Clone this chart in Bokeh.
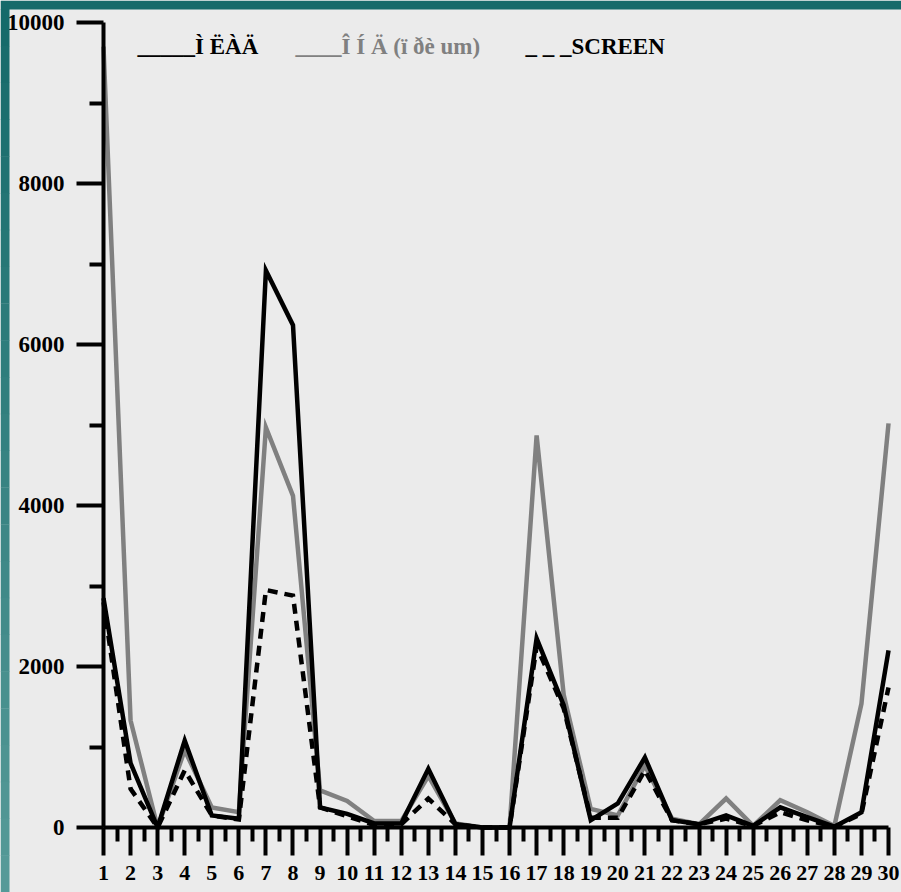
from bokeh.plotting import figure
from bokeh.models import FixedTicker, Label, Range1d, BoxAnnotation
from bokeh.embed import file_html
from bokeh.resources import INLINE

# ---------------- data ----------------
days = list(range(1, 31))
ond_vals = [9700, 1330, 0, 960, 250, 190, 4970, 4120, 460, 330,
            80, 80, 640, 50, 0, 0, 4870, 1650, 230, 150,
            770, 110, 40, 360, 20, 340, 190, 20, 1540, 5020]
mld_vals = [2850, 800, 0, 1080, 150, 110, 6920, 6240, 250, 170,
            50, 50, 730, 40, 0, 0, 2350, 1520, 90, 300,
            870, 90, 40, 150, 20, 250, 130, 10, 190, 2200]
screen_vals = [2800, 480, 0, 710, 150, 100, 2950, 2880, 250, 140,
               30, 40, 360, 40, 0, 0, 2250, 1480, 120, 120,
               710, 90, 40, 110, 20, 190, 90, 10, 170, 1740]
y_ticks = [0, 2000, 4000, 6000, 8000, 10000]
y_minor_ticks = [1000, 3000, 5000, 7000, 9000]
x_minor_ticks = [d + 0.5 for d in days[:-1]]
legend_texts = ["_____Ì ËÀÄ", "____Î Í Ä (ï ðè um)", "_ _ _SCREEN"]

# ---------------- style ----------------
BG = "#ebebeb"
TEAL_TOP = (21, 106, 106)
TEAL_BOTTOM = (86, 154, 152)
GRAY = "#808080"
FONT = "Liberation Serif"

W, H = 901, 892
PAD = 9                      # teal frame (top / left)
X0_PX, DX_PX = 103, 27.07    # page x of day 1, px per day
Y0_PX, DY_PX = 827, 0.0805   # page y of value 0, px per unit


def to_data(px, py):
    return 1 + (px - X0_PX) / DX_PX, (Y0_PX - py) / DY_PX


x_start, y_end = to_data(0, 0)
x_end, y_start = to_data(W, H)

p = figure(width=W, height=H, output_backend="svg", toolbar_location=None,
           x_range=Range1d(x_start, x_end), y_range=Range1d(y_start, y_end),
           min_border_left=0, min_border_right=0,
           min_border_top=0, min_border_bottom=0)
p.background_fill_color = BG
p.border_fill_color = BG
p.outline_line_color = None
p.grid.visible = False

# teal page frame (top strip + left strip with a vertical gradient)
xl, yt = to_data(0, 0)
xr, _ = to_data(PAD, 0)
_, yb = to_data(0, PAD)
p.add_layout(BoxAnnotation(left=xl, right=x_end, top=yt, bottom=yb,
                           fill_color="#%02x%02x%02x" % TEAL_TOP, fill_alpha=1,
                           line_color=None))
N = 24
for i in range(N):
    t = i / (N - 1)
    c = tuple(round(a + (b - a) * t) for a, b in zip(TEAL_TOP, TEAL_BOTTOM))
    _, b_top = to_data(0, PAD + (H - PAD) * i / N)
    _, b_bot = to_data(0, PAD + (H - PAD) * (i + 1) / N)
    p.add_layout(BoxAnnotation(left=xl, right=xr, top=b_top + 5, bottom=b_bot,
                               fill_color="#%02x%02x%02x" % c, fill_alpha=1,
                               line_color=None))

p.line(days, ond_vals, line_color=GRAY, line_width=4.5, line_join="miter")
p.line(days, mld_vals, line_color="black", line_width=4.5, line_join="miter")
p.line(days, screen_vals, line_color="black", line_width=4.5,
       line_dash="10 7", line_join="miter")

# x axis
xa = p.xaxis[0]
xa.fixed_location = 0
xa.bounds = (1, 30)
xa.ticker = FixedTicker(ticks=days, minor_ticks=x_minor_ticks)
xa.axis_line_width = 4
xa.major_tick_line_width = 4
xa.minor_tick_line_width = 4
xa.major_tick_in = 0
xa.major_tick_out = 28
xa.minor_tick_in = 0
xa.minor_tick_out = 14
xa.major_label_standoff = 10
xa.major_label_text_font = FONT
xa.major_label_text_font_style = "bold"
xa.major_label_text_font_size = "22px"
xa.major_label_text_color = "black"

# y axis
ya = p.yaxis[0]
ya.fixed_location = 1
ya.bounds = (0, 10000)
ya.ticker = FixedTicker(ticks=y_ticks, minor_ticks=y_minor_ticks)
ya.axis_line_width = 4
ya.major_tick_line_width = 4
ya.minor_tick_line_width = 4
ya.major_tick_in = 0
ya.major_tick_out = 27
ya.minor_tick_in = 0
ya.minor_tick_out = 14
ya.major_label_standoff = 12
ya.major_label_text_font = FONT
ya.major_label_text_font_style = "bold"
ya.major_label_text_font_size = "23px"
ya.major_label_text_color = "black"

# legend as text (positions given in page pixels, converted to data)
legend_pos = [(137, 46), (295, 46), (525, 46)]
legend_colors = ["black", GRAY, "black"]
for txt, (px, py), col in zip(legend_texts, legend_pos, legend_colors):
    lx, ly = to_data(px, py)
    p.add_layout(Label(x=lx, y=ly, text=txt, text_font=FONT,
                       text_font_style="bold", text_font_size="23px",
                       text_color=col, text_baseline="alphabetic",
                       text_align="left"))

open("out.html", "w").write(file_html(p, INLINE))
